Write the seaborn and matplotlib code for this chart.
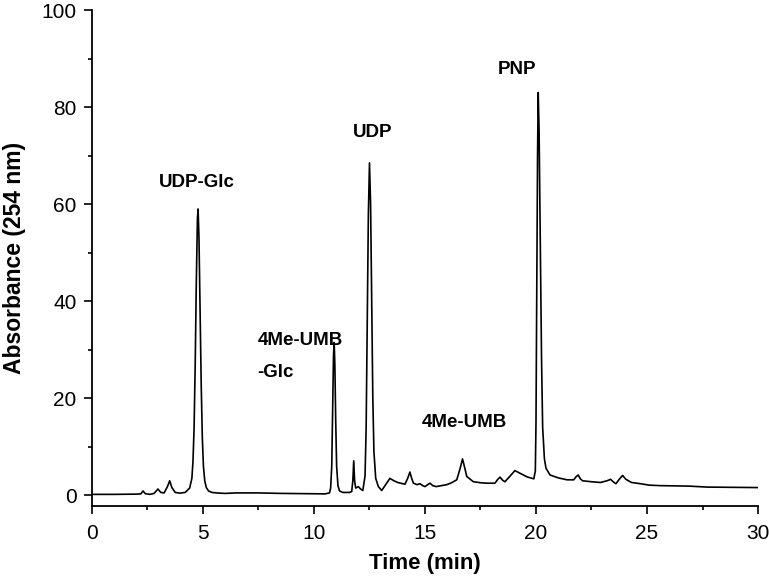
import matplotlib
matplotlib.use("Agg")
import matplotlib.pyplot as plt
import numpy as np
import pandas as pd
import seaborn as sns
from matplotlib.ticker import MultipleLocator

# chromatogram trace (time in min, absorbance at 254 nm)
time_min = [
    0.0, 1.0, 2.0, 2.2, 2.3, 2.4, 2.6, 2.8, 2.97, 3.1, 3.25, 3.4, 3.5, 3.6, 3.75, 3.95,
    4.2, 4.4, 4.5, 4.55, 4.6, 4.65, 4.7, 4.75, 4.78, 4.82, 4.87, 4.92, 4.97, 5.02, 5.08,
    5.15, 5.25, 5.4, 5.6, 6.0, 6.5, 7.5, 8.5, 9.5, 10.5,
    10.7, 10.75, 10.8, 10.84, 10.88, 10.91, 10.94, 10.98, 11.02, 11.08, 11.15, 11.3,
    11.6, 11.7, 11.75, 11.79, 11.83, 11.88, 12.0, 12.1, 12.2,
    12.3, 12.35, 12.4, 12.45, 12.5, 12.55, 12.6, 12.65, 12.7, 12.78, 12.9, 13.05,
    13.2, 13.42, 13.6, 13.8, 14.1, 14.22, 14.32, 14.4, 14.48, 14.65, 14.77, 14.9, 15.0,
    15.12, 15.23, 15.35, 15.5, 15.98, 16.2, 16.43, 16.58, 16.69, 16.8, 16.88, 17.18,
    17.5, 17.78, 18.15, 18.28, 18.38, 18.5, 18.6, 18.8, 19.05, 19.3, 19.6, 19.9,
    19.97, 20.0, 20.03, 20.07, 20.1, 20.14, 20.2, 20.25, 20.3, 20.38, 20.45, 20.63,
    21.0, 21.4, 21.7, 21.8, 21.9, 22.0, 22.1, 22.5, 22.9, 23.2, 23.36, 23.5, 23.6,
    23.75, 23.9, 24.05, 24.3, 24.7, 25.1, 25.6, 26.9, 27.7, 30.0,
]
absorbance = [
    0.2, 0.2, 0.25, 0.3, 0.9, 0.35, 0.2, 0.4, 1.3, 0.6, 0.5, 1.8, 3.0, 1.6, 0.6, 0.45,
    0.6, 1.5, 3.5, 7, 14, 27, 44, 57, 59, 53, 38, 23, 12, 6, 3,
    1.6, 0.9, 0.6, 0.5, 0.4, 0.5, 0.5, 0.4, 0.35, 0.3,
    0.5, 1.5, 6, 18, 29, 31.5, 27, 15, 6, 2, 0.9, 0.6,
    0.6, 0.8, 3, 7.1, 3, 1.5, 1.8, 1.3, 1.0,
    4, 14, 35, 58, 68.5, 60, 40, 20, 9, 3.5, 1.8, 1.0,
    2.0, 3.5, 3.0, 2.6, 2.3, 3.5, 4.8, 3.5, 2.5, 2.2, 2.4, 2.0, 1.8,
    2.2, 2.5, 2.0, 1.8, 2.2, 2.6, 3.2, 5.5, 7.5, 5.5, 3.9, 2.8,
    2.6, 2.5, 2.5, 3.3, 3.75, 3.1, 2.8, 3.8, 5.1, 4.5, 3.8, 3.4,
    5, 15, 40, 70, 83, 75, 50, 28, 14, 7.5, 5.6, 4.2,
    3.6, 3.2, 3.2, 3.8, 4.2, 3.4, 3.0, 2.8, 2.65, 3.0, 3.3, 2.7, 2.4,
    3.3, 4.1, 3.3, 2.65, 2.4, 2.1, 2.0, 1.9, 1.7, 1.6,
]

# peak annotations
peak_labels = ["UDP-Glc", "4Me-UMB\n-Glc", "UDP", "4Me-UMB", "PNP"]
label_x = [4.73, 7.45, 12.66, 16.76, 19.14]
label_y = [64.4, 28.6, 74.7, 15.1, 87.7]
label_ha = ["center", "left", "center", "center", "center"]

df = pd.DataFrame({"Time": time_min, "Absorbance": absorbance})

sns.set_style("ticks")
plt.rcParams["font.family"] = ["Liberation Sans", "DejaVu Sans"]
plt.rcParams["text.color"] = "black"
plt.rcParams["axes.labelcolor"] = "black"

fig = plt.figure(figsize=(7.69, 5.76), dpi=100)
ax = fig.add_axes([0.1196, 0.1215, 0.8661, 0.8611])

sns.lineplot(data=df, x="Time", y="Absorbance", color="black", lw=1.2, ax=ax)

for lab, x, y, ha in zip(peak_labels, label_x, label_y, label_ha):
    ax.text(x, y, lab, ha=ha, va="center", fontsize=13.5, fontweight="bold",
            linespacing=2.2, color="black")

ax.set_xlim(0, 30)
ax.set_ylim(-2.2, 100)
ax.xaxis.set_major_locator(MultipleLocator(5))
ax.xaxis.set_minor_locator(MultipleLocator(2.5))
ax.yaxis.set_major_locator(MultipleLocator(20))
ax.yaxis.set_minor_locator(MultipleLocator(10))
ax.tick_params(which="major", direction="out", length=6, width=1.2,
               labelsize=15, color="black", labelcolor="black")
ax.tick_params(axis="x", which="major", pad=7)
ax.tick_params(axis="y", which="major", pad=5)
ax.tick_params(which="minor", direction="out", length=3, width=1.2, color="black")
ax.set_yticks([0, 20, 40, 60, 80, 100])

ax.set_xlabel("Time (min)", fontsize=16, fontweight="bold", labelpad=7)
ax.set_ylabel("Absorbance (254 nm)", fontsize=16.5, fontweight="bold", labelpad=11)

sns.despine(ax=ax)
for side in ["left", "bottom"]:
    ax.spines[side].set_linewidth(1.3)
    ax.spines[side].set_color("black")

fig.savefig("out.png", dpi=100)
plt.close(fig)
